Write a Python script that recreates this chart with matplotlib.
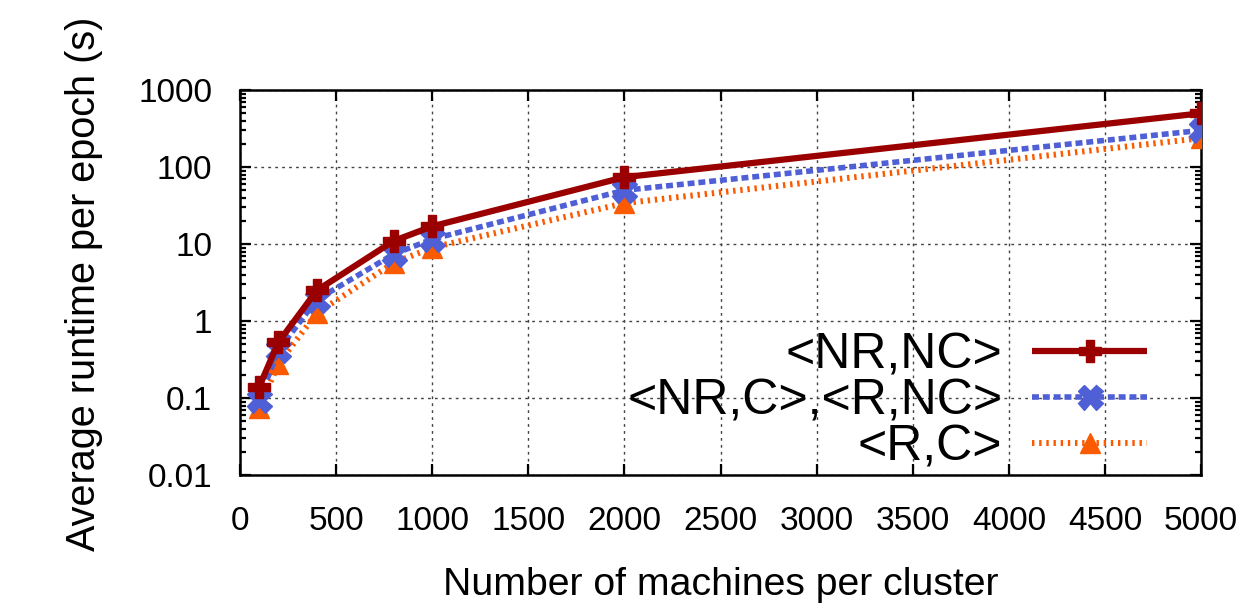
import matplotlib
matplotlib.use("Agg")
import matplotlib.pyplot as plt
from matplotlib.ticker import FixedLocator, FixedFormatter, LogLocator, NullFormatter

plt.rcParams['font.family'] = ['Liberation Sans', 'DejaVu Sans']

machines = [100, 200, 400, 800, 1000, 2000, 5000]
nr_nc = [0.14, 0.53, 2.5, 11, 17, 74, 500]
nr_c_r_nc = [0.095, 0.42, 1.9, 7.4, 11.6, 50, 300]
r_c = [0.074, 0.28, 1.27, 5.7, 9, 34, 238]
labels = ['<NR,NC>', '<NR,C>,<R,NC>', '<R,C>']
xticks = [0, 500, 1000, 1500, 2000, 2500, 3000, 3500, 4000, 4500, 5000]
yticks = [0.01, 0.1, 1, 10, 100, 1000]
ytick_labels = ['0.01', '0.1', '1', '10', '100', '1000']

fig = plt.figure(figsize=(12.37, 6.09), dpi=100)
ax = fig.add_axes([0.194, 0.220, 0.777, 0.632])

ax.plot(machines, nr_nc, color='#9b0000', lw=4.5, marker='P', ms=16,
        label=labels[0], solid_capstyle='butt', zorder=5)
ax.plot(machines, nr_c_r_nc, color='#4f5fd5', lw=4, ls=(0, (1.25, 0.7)), marker='X', ms=18,
        label=labels[1], dash_capstyle='butt', zorder=4)
ax.plot(machines, r_c, color='#fa5a00', lw=4.3, ls=(0, (0.4, 0.8)), marker='^', ms=14,
        label=labels[2], dash_capstyle='butt', zorder=3)

ax.set_yscale('log')
ax.set_xlim(0, 5000)
ax.set_ylim(0.01, 1000)
ax.xaxis.set_major_locator(FixedLocator(xticks))
ax.yaxis.set_major_locator(FixedLocator(yticks))
ax.yaxis.set_major_formatter(FixedFormatter(ytick_labels))
ax.yaxis.set_minor_locator(LogLocator(base=10, subs=range(2, 10), numticks=20))
ax.yaxis.set_minor_formatter(NullFormatter())

ax.grid(True, which='major', color='#444444', ls=(0, (2, 3)), lw=1)
ax.tick_params(which='both', direction='in', top=True, right=True, labelsize=24, width=1.6)
ax.tick_params(which='major', length=8)
ax.tick_params(which='minor', length=4.5)
ax.tick_params(axis='x', which='major', pad=22)
ax.tick_params(axis='y', which='major', pad=20)
for s in ax.spines.values():
    s.set_linewidth(1.8)

ax.set_xlabel('Number of machines per cluster', fontsize=28.3)
ax.set_ylabel('Average runtime per epoch (s)', fontsize=28.5)
ax.xaxis.set_label_coords(0.5, -0.24)
ax.yaxis.set_label_coords(-0.143, 0.497)

leg = ax.legend(loc='lower right', fontsize=36, frameon=False, markerfirst=False,
                handlelength=2.3, labelspacing=0.0, borderaxespad=0.0, borderpad=0.0,
                handletextpad=0.6, bbox_to_anchor=(0.944, 0.013))
for t in leg.get_texts():
    t.set_ha('right')

fig.savefig('out.png', dpi=100)
